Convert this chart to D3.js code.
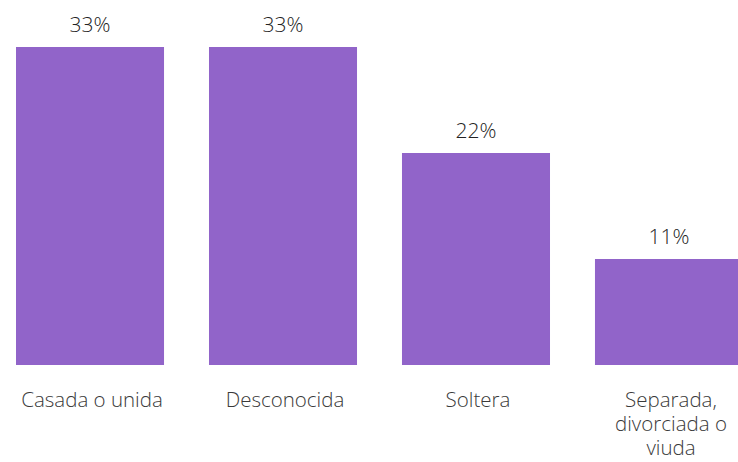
<!DOCTYPE html>
<html lang="es">
<head>
    <meta charset="UTF-8">
    <title>Estado civil</title>
    <script src="https://d3js.org/d3.v7.min.js"></script>
    <style>
        body {
            margin: 0;
            background: #fff;
            font-family: "Open Sans", Lato, sans-serif;
        }
        .value {
            fill: #222;
            font-size: 21px;
            font-weight: 300;
        }
        .cat {
            fill: #3a3a3a;
            font-size: 20.5px;
            font-weight: 300;
        }
    </style>
</head>
<body>

<svg id="chart" width="738" height="462"></svg>

<script>
    const categories = ["Casada o unida", "Desconocida", "Soltera", "Separada, divorciada o viuda"];
    const values = [33, 33, 22, 11];
    const valueLabels = ["33%", "33%", "22%", "11%"];

    const svg = d3.select("#chart");

    const x = d3.scaleBand()
        .domain(categories)
        .range([16, 743])
        .paddingInner(0.233)
        .paddingOuter(0);

    const y = d3.scaleLinear()
        .domain([0, 33])
        .range([365, 47]);

    // bars
    svg.selectAll("rect")
        .data(values)
        .enter()
        .append("rect")
        .attr("x", (d, i) => x(categories[i]))
        .attr("y", d => y(d))
        .attr("width", x.bandwidth())
        .attr("height", d => y(0) - y(d))
        .attr("fill", "#9164c9");

    // value labels
    svg.selectAll(".value")
        .data(values)
        .enter()
        .append("text")
        .attr("class", "value")
        .attr("x", (d, i) => x(categories[i]) + x.bandwidth() / 2)
        .attr("y", d => y(d) - 15)
        .attr("text-anchor", "middle")
        .text((d, i) => valueLabels[i]);

    // category labels, wrapped
    const cats = svg.selectAll(".cat")
        .data(categories)
        .enter()
        .append("text")
        .attr("class", "cat")
        .attr("x", d => x(d) + x.bandwidth() / 2 + 2)
        .attr("y", 407)
        .attr("text-anchor", "middle");

    cats.each(function(d) {
        const t = d3.select(this);
        const cx = +t.attr("x");
        const words = d.split(" ");
        let line = [];
        let tspan = t.append("tspan").attr("x", cx).attr("dy", 0);
        words.forEach(w => {
            line.push(w);
            tspan.text(line.join(" "));
            if (tspan.node().getComputedTextLength() > 140 && line.length > 1 && d.length > 16) {
                line.pop();
                tspan.text(line.join(" "));
                line = [w];
                tspan = t.append("tspan").attr("x", cx).attr("dy", 24).text(w);
            }
        });
    });
</script>

</body>
</html>
